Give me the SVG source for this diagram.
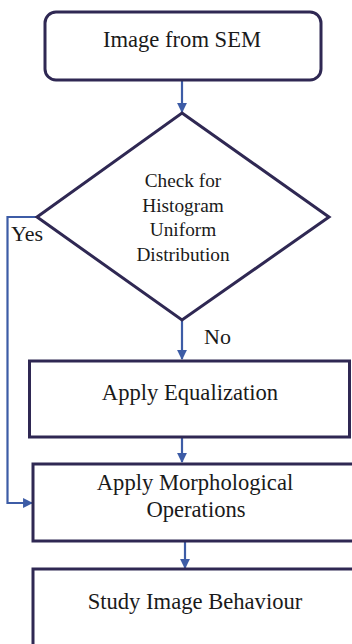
<svg xmlns="http://www.w3.org/2000/svg" width="352" height="644" viewBox="0 0 352 644">
<style>
.box{fill:#fff;stroke:#2f2853;stroke-width:3}
.conn{fill:none;stroke:#3d5ca6;stroke-width:2.2}
text{font-family:"Liberation Serif","Times New Roman",serif;fill:#1a1a1a;text-anchor:middle}
.t{font-size:22.6px}
.d{font-size:19.3px}
.lbl{font-size:22px;text-anchor:start}
</style>
<defs>
<marker id="ah" viewBox="0 0 10 10" refX="9" refY="5" markerWidth="4.5" markerHeight="4.5" orient="auto" markerUnits="strokeWidth">
<path d="M0,0 L10,5 L0,10 z" fill="#3d5ca6"/>
</marker>
</defs>
<rect width="352" height="644" fill="#fff"/>
<g id="connectors">
<path class="conn" d="M182,80 V112" marker-end="url(#ah)"/>
<path class="conn" d="M182,320 V359" marker-end="url(#ah)"/>
<path class="conn" d="M182,437 V462" marker-end="url(#ah)"/>
<path class="conn" d="M185,541 V568" marker-end="url(#ah)"/>
<path class="conn" d="M37,217 H7.5 V503 H32" marker-end="url(#ah)"/>
<text class="lbl" x="11" y="241">Yes</text>
<text class="lbl" x="204" y="344">No</text>
</g>
<g id="start">
<rect class="box" x="45" y="12" width="276" height="68" rx="11"/>
<text class="t" x="182" y="47">Image from SEM</text>
</g>
<g id="decision">
<polygon class="box" points="182,113 329,217 182,320 37,217"/>
<text class="d" x="183" y="187">Check for</text>
<text class="d" x="183" y="212">Histogram</text>
<text class="d" x="183" y="236">Uniform</text>
<text class="d" x="183" y="261">Distribution</text>
</g>
<g id="equalization">
<rect class="box" x="29.5" y="361" width="320" height="76"/>
<text class="t" x="190" y="400">Apply Equalization</text>
</g>
<g id="morphological">
<rect class="box" x="33" y="464" width="330" height="77"/>
<text class="t" x="195" y="490">Apply Morphological</text>
<text class="t" x="196" y="517">Operations</text>
</g>
<g id="study">
<rect class="box" x="33" y="569" width="330" height="90"/>
<text class="t" x="195" y="609">Study Image Behaviour</text>
</g>
</svg>
